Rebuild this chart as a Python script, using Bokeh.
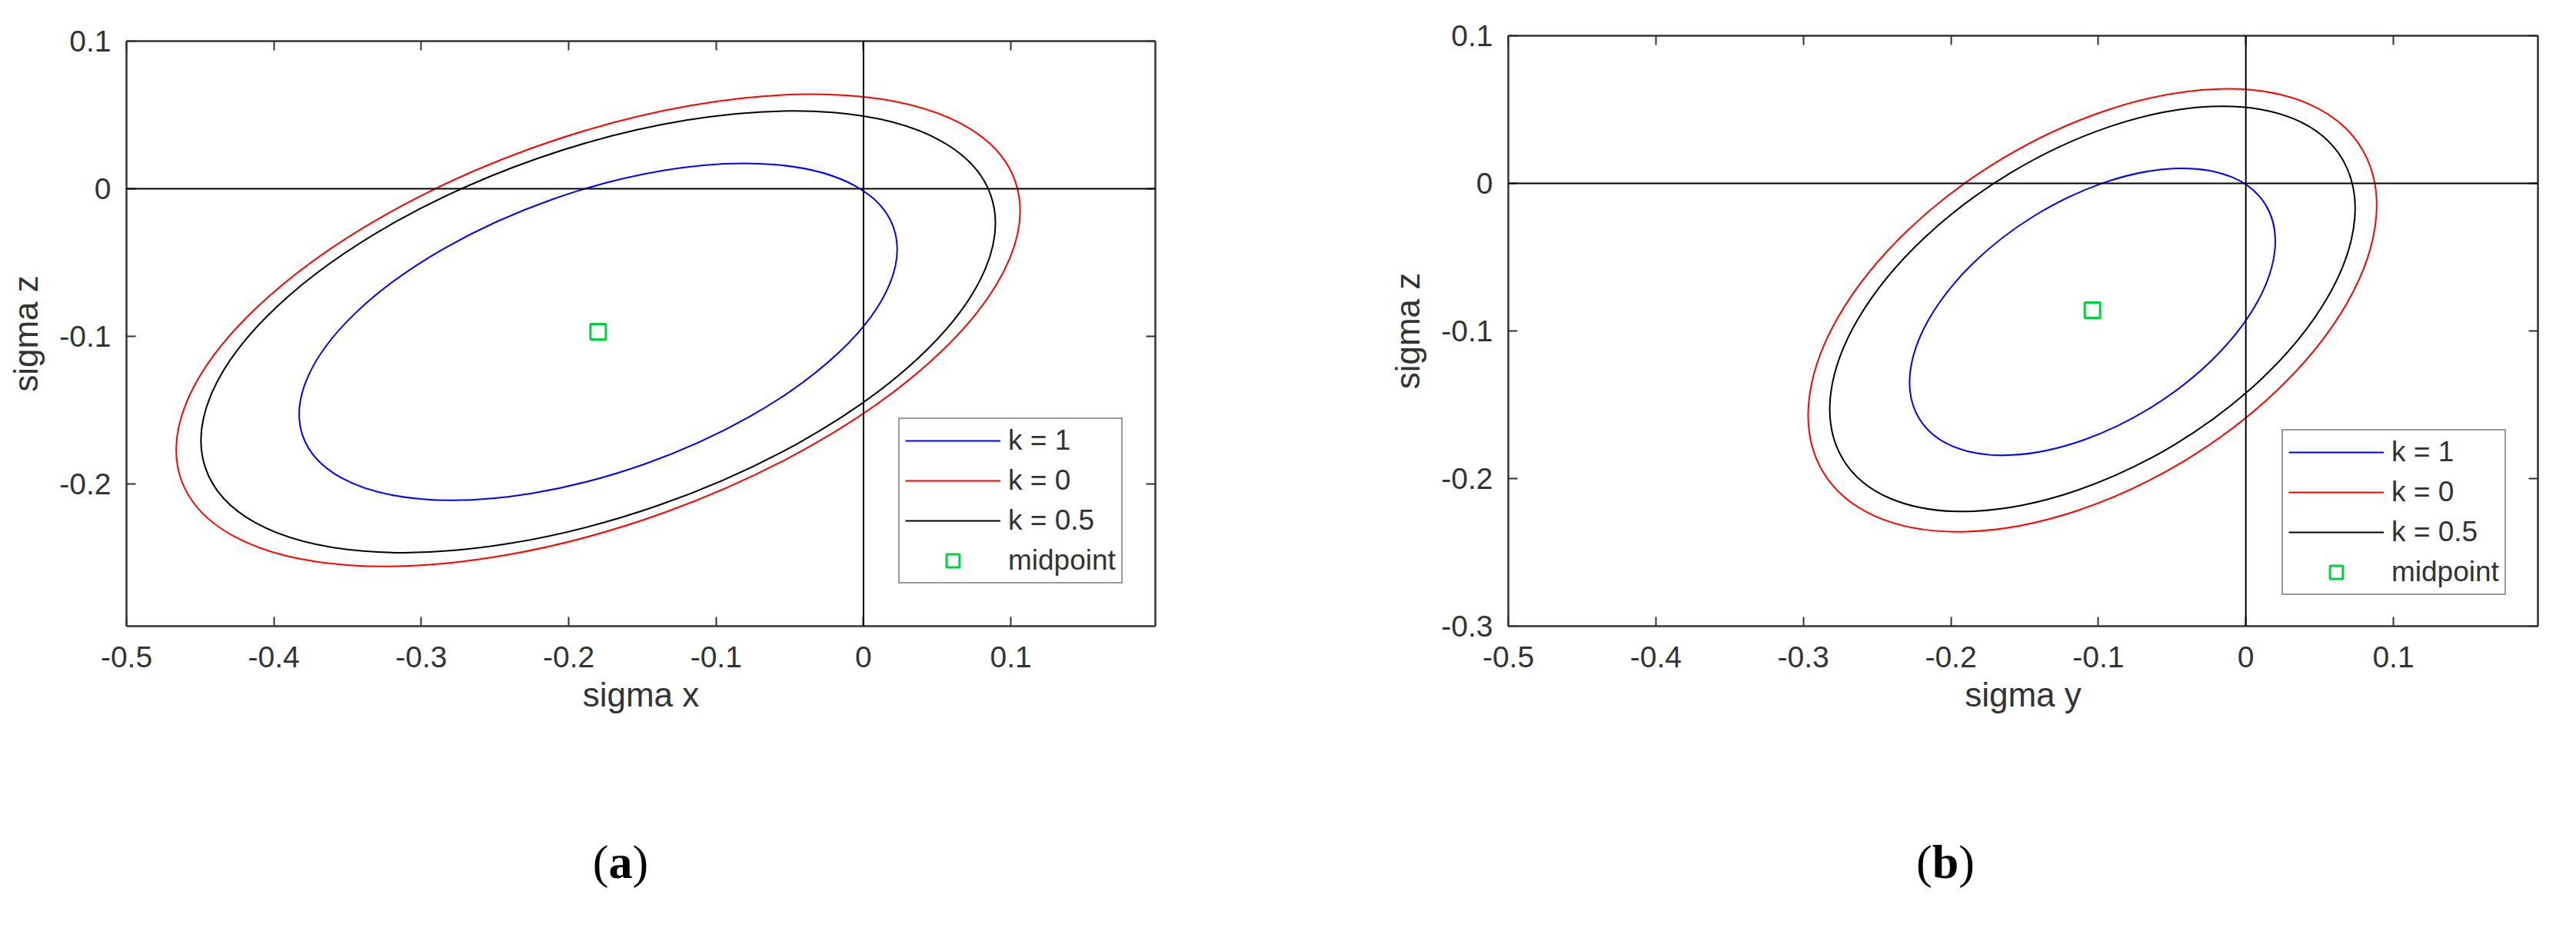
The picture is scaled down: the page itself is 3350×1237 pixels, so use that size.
from bokeh.plotting import figure
from bokeh.models import (Range1d, FixedTicker, LinearAxis, Span, Legend, LegendItem,
                          Div, ColumnDataSource)
from bokeh.layouts import row, column
from bokeh.embed import file_html
from bokeh.resources import INLINE

# ---------------- data ----------------
series_labels = ["k = 1", "k = 0", "k = 0.5"]
series_colors = ["#0000ff", "#ff0000", "#000000"]

# panel (a): sigma x vs sigma z  (ellipse centre, full axes, rotation in rad)
a_cx = [-0.180, -0.180, -0.180]
a_cy = [-0.097, -0.096, -0.097]
a_width = [0.425, 0.601, 0.564]
a_height = [0.190, 0.263, 0.249]
a_angle = [0.340, 0.345, 0.335]
a_mid_x = [-0.180]
a_mid_y = [-0.097]

# panel (b): sigma y vs sigma z
b_cx = [-0.104, -0.104, -0.104]
b_cy = [-0.087, -0.086, -0.085]
b_width = [0.276, 0.426, 0.395]
b_height = [0.152, 0.239, 0.215]
b_angle = [0.555, 0.541, 0.542]
b_mid_x = [-0.104]
b_mid_y = [-0.086]

x_ticks = [-0.5, -0.4, -0.3, -0.2, -0.1, 0, 0.1]
x_tick_labels = ["-0.5", "-0.4", "-0.3", "-0.2", "-0.1", "0", "0.1"]
a_y_ticks = [-0.2, -0.1, 0, 0.1]
a_y_tick_labels = ["-0.2", "-0.1", "0", "0.1"]
b_y_ticks = [-0.3, -0.2, -0.1, 0, 0.1]
b_y_tick_labels = ["-0.3", "-0.2", "-0.1", "0", "0.1"]

FONT = "Liberation Sans"
AX_COLOR = "#333333"
MID_COLOR = "#00d040"


def style_axis(ax, ticks, labels, show_labels):
    ax.ticker = FixedTicker(ticks=ticks)
    if show_labels:
        ax.major_label_overrides = dict(zip(ticks, labels))
    else:
        ax.major_label_overrides = {t: "" for t in ticks}
        ax.major_label_standoff = 0
    ax.minor_tick_line_color = None
    ax.major_tick_in = 12
    ax.major_tick_out = 0
    ax.major_tick_line_color = AX_COLOR
    ax.major_tick_line_width = 2
    ax.axis_line_color = AX_COLOR
    ax.axis_line_width = 2.5
    ax.major_label_text_font = FONT
    ax.major_label_text_color = AX_COLOR
    ax.major_label_text_font_size = "39px"
    ax.axis_label_text_font = FONT
    ax.axis_label_text_font_size = "44px"
    ax.axis_label_text_font_style = "normal"
    ax.axis_label_text_color = AX_COLOR


def make_panel(cx, cy, w, h, ang, mx, my, ymin, yticks, ylabels, xlabel,
               width, border_left, border_right, border_top, legend_loc):
    p = figure(width=width, height=964,
               x_range=Range1d(-0.5, 0.198), y_range=Range1d(ymin, 0.1),
               output_backend="svg", toolbar_location=None,
               min_border_left=border_left, min_border_right=border_right,
               min_border_top=border_top, min_border_bottom=150,
               background_fill_color="white", border_fill_color="white")
    p.grid.visible = False
    p.outline_line_color = None

    xa = p.below[0]
    ya = p.left[0]
    style_axis(xa, x_ticks, x_tick_labels, True)
    style_axis(ya, yticks, ylabels, True)
    xa.major_label_standoff = 26
    ya.major_label_standoff = 20
    xa.axis_label = xlabel
    ya.axis_label = "sigma z"
    xa.axis_label_standoff = 8
    ya.axis_label_standoff = 16

    top = LinearAxis()
    right = LinearAxis()
    style_axis(top, x_ticks, x_tick_labels, False)
    style_axis(right, yticks, ylabels, False)
    p.add_layout(top, "above")
    p.add_layout(right, "right")

    p.add_layout(Span(location=0, dimension="width", line_color="black", line_width=2))
    p.add_layout(Span(location=0, dimension="height", line_color="black", line_width=2))

    src = ColumnDataSource(dict(x=cx, y=cy, w=w, h=h, a=ang, c=series_colors))
    p.ellipse(x="x", y="y", width="w", height="h", angle="a", source=src,
              fill_color=None, line_color="c", line_width=2)

    mid = p.scatter(x=mx, y=my, marker="square", size=20, fill_color=None,
                    line_color=MID_COLOR, line_width=3)

    items = []
    for lab, col in zip(series_labels, series_colors):
        # single-point line: draws nothing in the plot, only supplies the legend swatch
        r = p.line(x=mx, y=my, line_color=col, line_width=2)
        items.append(LegendItem(label=lab, renderers=[r]))
    items.append(LegendItem(label="midpoint", renderers=[mid]))

    leg = Legend(items=items, location=legend_loc, margin=0, padding=7,
                 spacing=10, glyph_width=124, glyph_height=42, label_height=42,
                 label_standoff=10, label_text_font=FONT, label_text_font_size="37px",
                 label_text_color=AX_COLOR, border_line_color=AX_COLOR,
                 border_line_width=2, background_fill_color="white",
                 background_fill_alpha=1.0)
    p.add_layout(leg)
    return p


pa = make_panel(a_cx, a_cy, a_width, a_height, a_angle, a_mid_x, a_mid_y,
                -0.2965, a_y_ticks, a_y_tick_labels, "sigma x",
                width=1602, border_left=164, border_right=100, border_top=53,
                legend_loc=(1004, 55))
pb = make_panel(b_cx, b_cy, b_width, b_height, b_angle, b_mid_x, b_mid_y,
                -0.3, b_y_ticks, b_y_tick_labels, "sigma y",
                width=1728, border_left=359, border_right=30, border_top=46,
                legend_loc=(1006, 40))


def caption(letter, left, width):
    html = ('<div style="margin-left:%dpx;width:200px;text-align:center;padding-top:122px;'
            'font-family:\'Liberation Serif\',serif;font-size:62px;line-height:70px;'
            'font-weight:normal;color:black;">(<b>%s</b>)</div>' % (left, letter))
    return Div(text=html, width=width, height=250, margin=0)


layout = row(column(pa, caption("a", 707, 1602), spacing=0),
             column(pb, caption("b", 828, 1728), spacing=0), spacing=0)

open("out.html", "w").write(file_html(layout, INLINE))
